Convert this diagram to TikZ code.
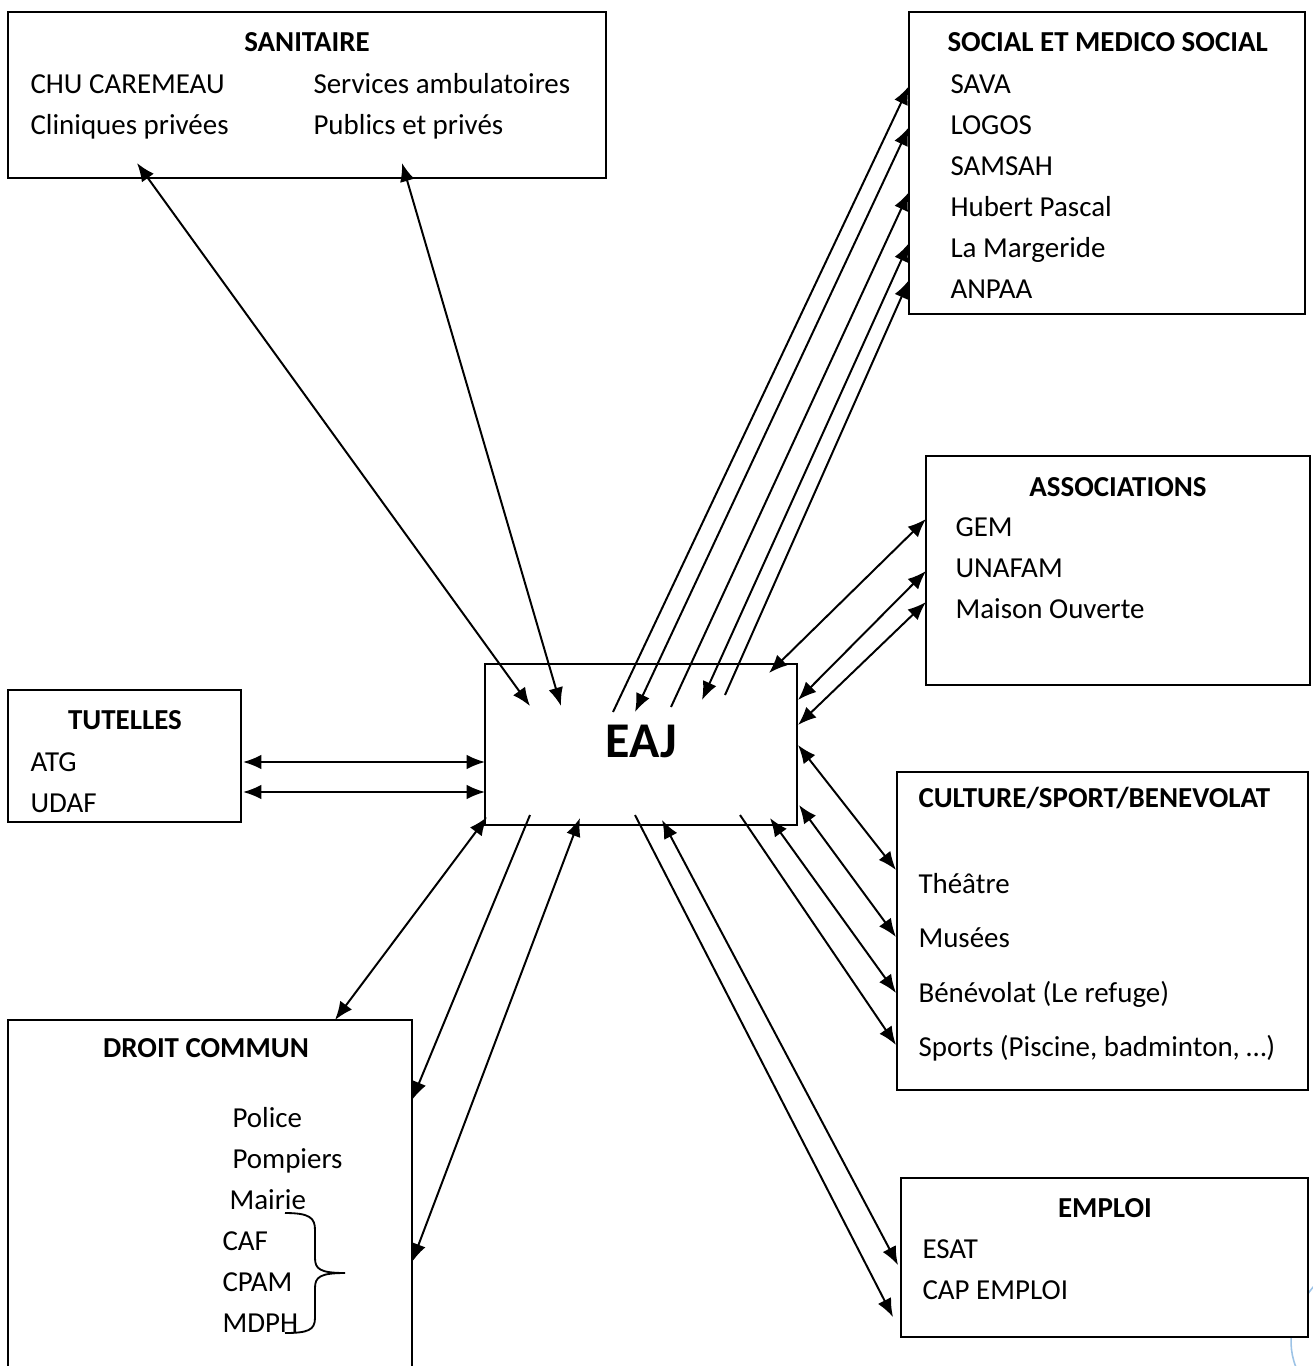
\documentclass[tikz,border=0pt]{standalone}
\usepackage{fontspec}
\setmainfont{Carlito}
\usepackage{tikz}
\usetikzlibrary{arrows.meta,fit}
\definecolor{bleuclair}{RGB}{157,195,230}

\begin{document}
\fontsize{11}{13}\selectfont
\begin{tikzpicture}[>={Latex[length=7pt,width=5.6pt]},x=0.38pt,y=-0.38pt,
  cadre/.style={draw,line width=0.75pt,fill=white,inner sep=0pt},
  fleche/.style={line width=0.75pt},
  titre/.style={font=\bfseries,anchor=base,inner sep=0pt},
  item/.style={anchor=base west,inner sep=0pt}]
  \useasboundingbox (0,0) rectangle (1313,1366);
  % page decoration, behind the boxes
  \draw[bleuclair,line width=0.6pt] (1314,1286) .. controls (1292,1312) and (1284,1342) .. (1298,1372);
  % Boxes
  \node[cadre,fit={(8,12) (606,178)}] (sanitaire) {};
  \node[cadre,fit={(909,12) (1305,314)}] (social) {};
  \node[cadre,fit={(926,456) (1310,685)}] (assoc) {};
  \node[cadre,fit={(8,690) (241,822)}] (tutelles) {};
  \node[cadre,fit={(485,664) (797,825)}] (eaj) {};
  \node[cadre,fit={(897,772) (1308,1090)}] (culture) {};
  \node[cadre,fit={(8,1020) (412,1400)}] (droit) {};
  \node[cadre,fit={(901,1178) (1308,1337)}] (emploi) {};
  % Texts
  \node[titre] (tsan) at (307,51) {SANITAIRE};
  \node[item] (chu) at (30,93) {CHU CAREMEAU};
  \node[item] (clin) at (30,134) {Cliniques privées};
  \node[item] (serv) at (313,93) {Services ambulatoires};
  \node[item] (pub) at (313,134) {Publics et privés};
  \node[titre,anchor=base west] (tsoc) at (947,51) {SOCIAL ET MEDICO SOCIAL};
  \foreach \t [count=\i] in {SAVA,LOGOS,SAMSAH,Hubert Pascal,La Margeride,ANPAA}
    \node[item] (soc\i) at (950,52+41*\i) {\t};
  \node[titre] (tass) at (1118,496) {ASSOCIATIONS};
  \foreach \t [count=\i] in {GEM,UNAFAM,Maison Ouverte}
    \node[item] (ass\i) at (955,495+41*\i) {\t};
  \node[titre] (ttut) at (125,729) {TUTELLES};
  \node[item] (atg) at (30,771) {ATG};
  \node[item] (udaf) at (30,812) {UDAF};
  \node[titre,font=\fontsize{19}{22}\selectfont\bfseries] (teaj) at (641,757) {EAJ};
  \node[titre,anchor=base west] (tcul) at (918,807) {CULTURE/SPORT/BENEVOLAT};
  \node[item] (theatre) at (918,893) {Théâtre};
  \node[item] (musees) at (918,947) {Musées};
  \node[item] (benev) at (918,1002) {Bénévolat (Le refuge)};
  \node[item] (sports) at (918,1056) {Sports (Piscine, badminton, …)};
  \node[titre] (temp) at (1105,1217) {EMPLOI};
  \node[item] (esat) at (922,1258) {ESAT};
  \node[item] (cap) at (922,1299) {CAP EMPLOI};
  \node[titre] (tdro) at (206,1057) {DROIT COMMUN};
  \node[item] (police) at (232,1127) {Police};
  \node[item] (pompiers) at (232,1168) {Pompiers};
  \node[item] (mairie) at (229,1209) {Mairie};
  \node[item] (caf) at (222,1250) {CAF};
  \node[item] (cpam) at (222,1291) {CPAM};
  \node[item] (mdph) at (222,1332) {MDPH};
  % brace for CAF / CPAM / MDPH
  \draw[line width=0.7pt] (285,1213) .. controls (310,1213) and (315,1218) .. (315,1230) -- (315,1258)
    .. controls (315,1269) and (320,1273) .. (345,1273)
    .. controls (320,1273) and (315,1277) .. (315,1288) -- (315,1318)
    .. controls (315,1330) and (308,1333) .. (285,1333);
  % Arrow ends on EAJ
  \coordinate (j1) at (530,706);  \coordinate (j2) at (561,706);
  \coordinate (j3) at (613,712);  \coordinate (j4) at (635,712);
  \coordinate (j5) at (671,707);  \coordinate (j6) at (702,700);
  \coordinate (j7) at (725,695);  \coordinate (j8) at (769,673);
  \coordinate (j9) at (798,700);  \coordinate (j10) at (798,725);
  \coordinate (j11) at (798,745); \coordinate (j12) at (799,805);
  \coordinate (j13) at (770,818); \coordinate (j14) at (740,815);
  \coordinate (j15) at (662,820); \coordinate (j16) at (635,815);
  \coordinate (j17) at (580,818); \coordinate (j18) at (530,815);
  \coordinate (j19) at (487,817); \coordinate (j20) at (485,762);
  \coordinate (j21) at (485,792);
  % Arrow ends on the other boxes
  \coordinate (a1) at (137,163);  \coordinate (a2) at (402,163);
  \coordinate (a3) at (909,86);   \coordinate (a4) at (909,127);
  \coordinate (a5) at (909,192);  \coordinate (a6) at (909,243);
  \coordinate (a7) at (909,280);  \coordinate (a8) at (926,519);
  \coordinate (a9) at (926,571);  \coordinate (a10) at (926,602);
  \coordinate (a11) at (896,870); \coordinate (a12) at (896,937);
  \coordinate (a13) at (896,993); \coordinate (a14) at (896,1045);
  \coordinate (a15) at (898,1265); \coordinate (a16) at (893,1317);
  \coordinate (a17) at (412,1262); \coordinate (a18) at (412,1100);
  \coordinate (a19) at (335,1020); \coordinate (a20) at (243,762);
  \coordinate (a21) at (243,792);
  % Connectors
  \foreach \i in {1,2,4,6,8,9,10,11,12,13,15,17,19,20,21}
    \draw[fleche,<->] (j\i) -- (a\i);
  \foreach \i in {3,5,7,14,16,18}
    \draw[fleche,->] (j\i) -- (a\i);
\end{tikzpicture}
\end{document}
